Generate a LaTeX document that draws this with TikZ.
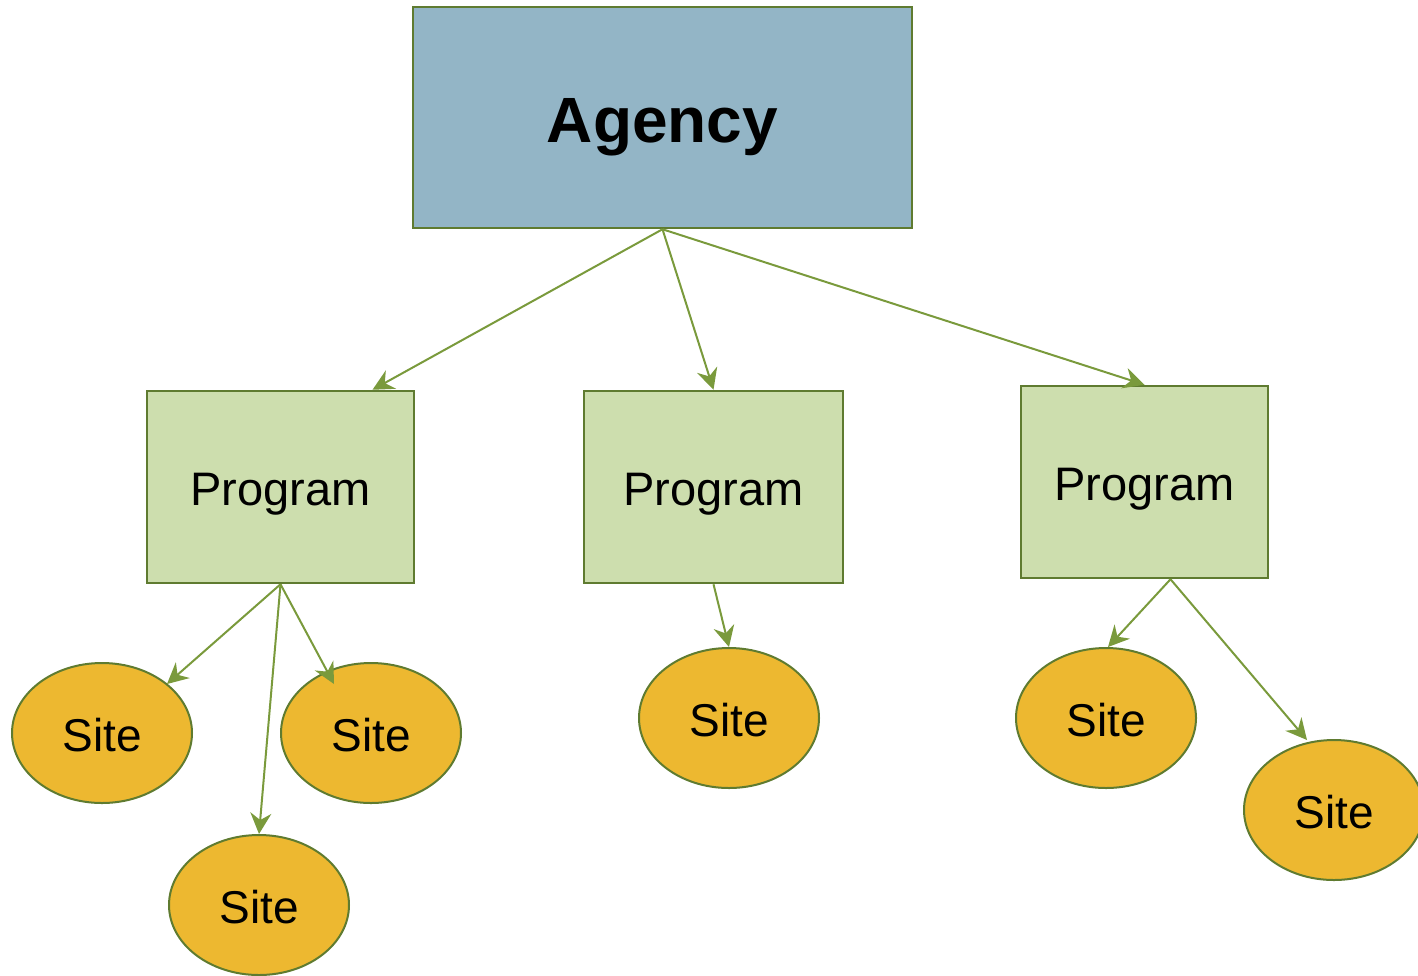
\documentclass[tikz,border=0pt]{standalone}
\usepackage{fontspec}
\setmainfont{Liberation Sans}
\usetikzlibrary{arrows.meta,shapes.geometric,calc}
\definecolor{agencyfill}{HTML}{93B5C6}
\definecolor{progfill}{HTML}{CDDEAE}
\definecolor{sitefill}{HTML}{EDB830}
\definecolor{edgecol}{HTML}{5F7B30}
\definecolor{arrowcol}{HTML}{7A9A3C}
\newcommand{\lowered}[2]{\raisebox{-#1}[0pt][0pt]{#2}}
\tikzset{
  agencybox/.style={draw=edgecol,line width=2.5pt,fill=agencyfill,rectangle,inner sep=0pt,
    minimum width=499pt,minimum height=221pt,font=\fontsize{64}{70}\selectfont\bfseries},
  progbox/.style={draw=edgecol,line width=2.5pt,fill=progfill,rectangle,inner sep=0pt,
    font=\fontsize{47}{52}\selectfont},
  sitenode/.style={draw=edgecol,line width=2pt,fill=sitefill,ellipse,inner sep=0pt,
    minimum width=180pt,minimum height=140pt,font=\fontsize{46}{50}\selectfont},
  conn/.style={draw=arrowcol,line width=2pt,-{Stealth[length=21pt,width=21pt,inset=7pt]}}
}
\begin{document}
\begin{tikzpicture}[x=1pt,y=-1pt]
\useasboundingbox (0,0) rectangle (1418,975);
\clip (0,0) rectangle (1418,975);
\node[agencybox] (ag) at (662.5,117.5) {\lowered{25pt}{Agency}};
\node[progbox,minimum width=267pt,minimum height=192pt] (p1) at (280.5,487) {\lowered{18pt}{Program}};
\node[progbox,minimum width=259pt,minimum height=192pt] (p2) at (713.5,487) {\lowered{18pt}{Program}};
\node[progbox,minimum width=247pt,minimum height=192pt] (p3) at (1144.5,482) {\lowered{18pt}{Program}};
\node[sitenode] (s1) at (102,733) {\lowered{18pt}{Site}};
\node[sitenode] (s2) at (371,733) {\lowered{18pt}{Site}};
\node[sitenode] (s3) at (259,905) {\lowered{18pt}{Site}};
\node[sitenode] (s4) at (729,718) {\lowered{18pt}{Site}};
\node[sitenode] (s5) at (1106,718) {\lowered{18pt}{Site}};
\node[sitenode] (s6) at (1334,810) {\lowered{18pt}{Site}};
\draw[conn] (ag.south) -- ($(p1.north)+(92,0)$);
\draw[conn] (ag.south) -- (p2.north);
\draw[conn] (ag.south) -- (p3.north);
\draw[conn] (p1.south) -- ($(s1)+(65,-49)$);
\draw[conn] (p1.south) -- (s3.north);
\draw[conn] (p1.south) -- ($(s2)+(-37,-49)$);
\draw[conn] (p2.south) -- (s4.north);
\draw[conn] ($(p3.south)+(26,0)$) -- ($(s5.north)+(2,0)$);
\draw[conn] ($(p3.south)+(26,0)$) -- ($(s6)+(-27,-70)$);
\end{tikzpicture}
\end{document}
